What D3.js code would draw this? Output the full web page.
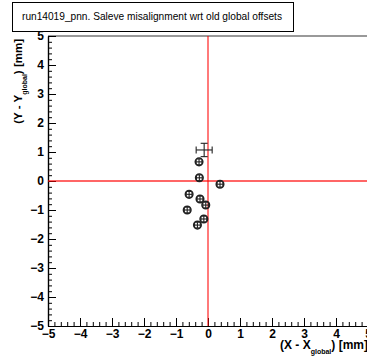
<!DOCTYPE html>
<html><head><meta charset="utf-8">
<script src="https://cdn.jsdelivr.net/npm/d3@7"></script>
<style>body{margin:0;background:#fff}svg{display:block}</style>
</head><body>
<svg id="c" width="367" height="358"></svg>
<script>
const titleText = "run14019_pnn. Saleve misalignment wrt old global offsets";
const xVals = [-0.12, -0.28, -0.27, 0.375, -0.59, -0.25, -0.07, -0.65, -0.13, -0.33];
const yVals = [1.07, 0.66, 0.11, -0.11, -0.46, -0.62, -0.83, -1.0, -1.31, -1.52];
const xErr  = [0.25, 0.09, 0.09, 0.09, 0.09, 0.09, 0.09, 0.09, 0.09, 0.09];
const yErr  = [0.23, 0.10, 0.10, 0.10, 0.10, 0.10, 0.10, 0.10, 0.10, 0.10];
const hasMarker = [false, true, true, true, true, true, true, true, true, true];
const xTicks = [-5,-4,-3,-2,-1,0,1,2,3,4,5];
const yTicks = [-5,-4,-3,-2,-1,0,1,2,3,4,5];

const svg = d3.select("#c");
const L = 48, R = 368, T = 36, B = 326;
const x = d3.scaleLinear().domain([-5,5]).range([L,R]);
const y = d3.scaleLinear().domain([-5,5]).range([B,T]);
const fmt = d => d < 0 ? "\u2212" + Math.abs(d) : String(d);
const font = "'Liberation Sans', Arial, Helvetica, sans-serif";

// top frame border
svg.append("line").attr("x1",L).attr("x2",R).attr("y1",T).attr("y2",T)
  .attr("stroke","#777").attr("stroke-width",1.6);

// minor ticks
const minor = d3.range(-5,5.001,0.2).map(v=>+v.toFixed(1));
const gx = svg.append("g").attr("transform",`translate(0,${B})`);
gx.call(d3.axisBottom(x).tickValues(minor).tickSizeInner(-4).tickSizeOuter(0).tickFormat(""));
gx.append("g").call(d3.axisBottom(x).tickValues(xTicks).tickSizeInner(-8).tickSizeOuter(0).tickPadding(3).tickFormat(fmt));
const gy = svg.append("g").attr("transform",`translate(${L},0)`);
gy.call(d3.axisLeft(y).tickValues(minor).tickSizeInner(-4).tickSizeOuter(0).tickFormat(""));
gy.append("g").call(d3.axisLeft(y).tickValues(yTicks).tickSizeInner(-8).tickSizeOuter(0).tickPadding(4).tickFormat(fmt));
svg.selectAll(".domain").attr("stroke","#000").attr("stroke-width",1.2);
svg.selectAll(".tick line").attr("stroke","#000").attr("stroke-width",1);
svg.selectAll(".tick text").attr("font-family",font).attr("font-weight","bold").attr("font-size",12).attr("fill","#000");

// red zero lines
svg.append("line").attr("x1",x(0)).attr("x2",x(0)).attr("y1",T).attr("y2",B)
  .attr("stroke","#f00").attr("stroke-width",1.3).attr("opacity",0.8);
svg.append("line").attr("x1",L).attr("x2",R).attr("y1",y(0)).attr("y2",y(0))
  .attr("stroke","#f00").attr("stroke-width",1.3).attr("opacity",0.8);

// points
const pts = svg.append("g").attr("stroke","#222").attr("fill","none").attr("stroke-width",1.1);
xVals.forEach((xv,i)=>{
  const cx = x(xv), cy = y(yVals[i]);
  const x0 = x(xv - xErr[i]), x1 = x(xv + xErr[i]);
  const y0 = y(yVals[i] - yErr[i]), y1 = y(yVals[i] + yErr[i]);
  const g = pts.append("g");
  if (hasMarker[i]) g.append("circle").attr("cx",cx).attr("cy",cy).attr("r",3.8).attr("stroke-width",1.5);
  g.append("line").attr("x1",x0).attr("x2",x1).attr("y1",cy).attr("y2",cy);
  g.append("line").attr("x1",cx).attr("x2",cx).attr("y1",y0).attr("y2",y1);
  const c = hasMarker[i] ? 2.5 : 3.5;
  g.append("line").attr("x1",x0).attr("x2",x0).attr("y1",cy-c).attr("y2",cy+c);
  g.append("line").attr("x1",x1).attr("x2",x1).attr("y1",cy-c).attr("y2",cy+c);
  g.append("line").attr("x1",cx-c).attr("x2",cx+c).attr("y1",y0).attr("y2",y0);
  g.append("line").attr("x1",cx-c).attr("x2",cx+c).attr("y1",y1).attr("y2",y1);
});

// axis titles
const xt = svg.append("text").attr("x",R).attr("y",349).attr("text-anchor","end")
  .attr("font-family",font).attr("font-weight","bold").attr("font-size",12);
xt.append("tspan").text("(X - X");
xt.append("tspan").attr("font-size",7).attr("dy",5).text("global");
xt.append("tspan").attr("dy",-5).text(") [mm]");

const yt = svg.append("text").attr("transform",`translate(22,${T+3}) rotate(-90)`).attr("text-anchor","end")
  .attr("font-family",font).attr("font-weight","bold").attr("font-size",11.5);
yt.append("tspan").text("(Y - Y");
yt.append("tspan").attr("font-size",7).attr("dy",5).text("global");
yt.append("tspan").attr("dy",-5).text(") [mm]");

// title box
svg.append("rect").attr("x",12.5).attr("y",2.5).attr("width",281).attr("height",29)
  .attr("fill","#fff").attr("stroke","#000").attr("stroke-width",1);
svg.append("text").attr("x",152).attr("y",20).attr("text-anchor","middle")
  .attr("font-family",font).attr("font-size",10.5).attr("textLength",260).attr("lengthAdjust","spacingAndGlyphs")
  .attr("fill","#000").text(titleText);
</script>
</body></html>
